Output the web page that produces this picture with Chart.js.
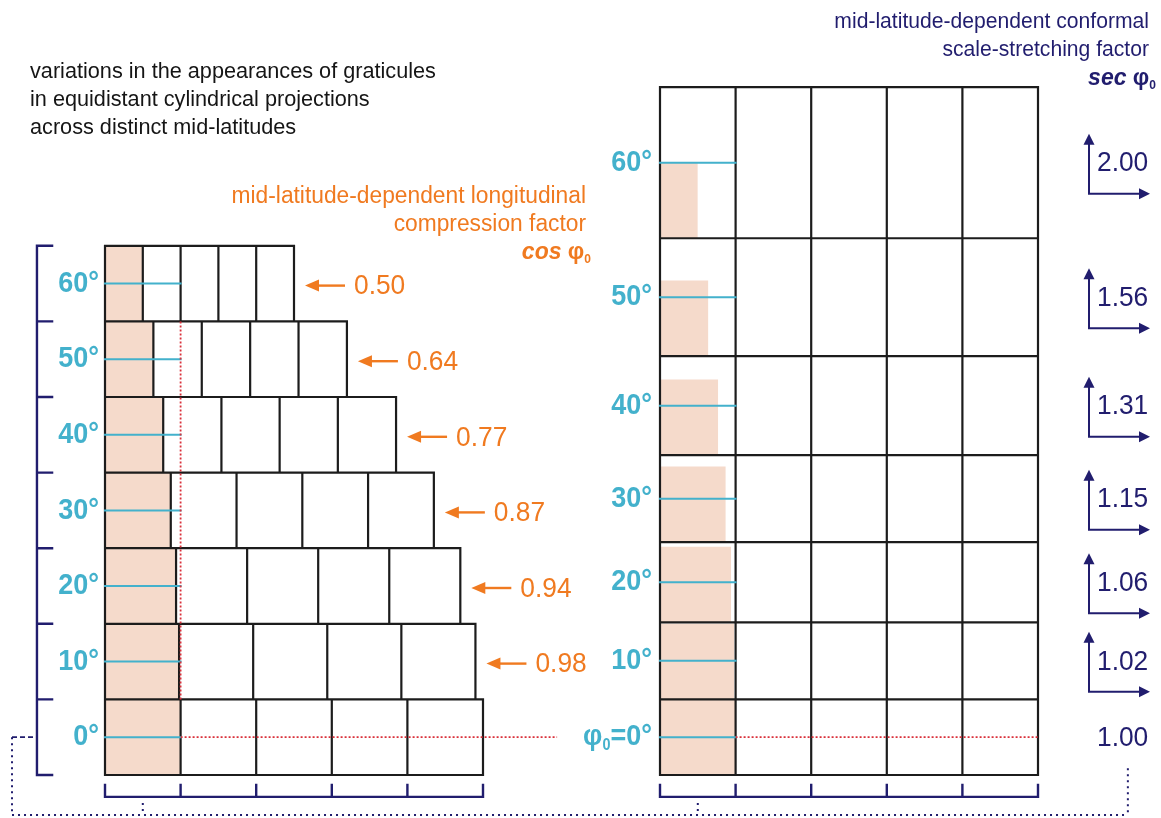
<!DOCTYPE html>
<html>
<head>
<meta charset="utf-8">
<script src="https://cdn.jsdelivr.net/npm/chart.js@4.4.0/dist/chart.umd.min.js"></script>
<style>
  html, body { margin: 0; padding: 0; background: #fff; overflow: hidden; }
</style>
</head>
<body>
<canvas id="graticules" width="1161" height="818"></canvas>
<script>
// values
const latitudes = [0, 10, 20, 30, 40, 50, 60];
const cosFactors = [1.00, 0.98, 0.94, 0.87, 0.77, 0.64, 0.50];
const secFactors = [1.00, 1.02, 1.06, 1.15, 1.31, 1.56, 2.00];
const cellsPerBand = 5;
const titleLines = ['variations in the appearances of graticules', 'in equidistant cylindrical projections', 'across distinct mid-latitudes'];
const cosCaption = ['mid-latitude-dependent longitudinal', 'compression factor'];
const secCaption = ['mid-latitude-dependent conformal', 'scale-stretching factor'];

// layout: one unit = one equatorial cell
const W = 1161, H = 818, U = 75.6, ORIGIN_X = 105, ORIGIN_Y = 775;
const RP = (660 - ORIGIN_X) / U;          // left edge of right panel, in units
const FONT = '"Liberation Sans", Arial, sans-serif';
const CYAN = '#43b1cc', ORANGE = '#f07a20', NAVY = '#211d6e', SHADE = '#f5dacb', INK = '#1c1c1c';

const rowBottom = secFactors.map((_, i) => secFactors.slice(0, i).reduce((a, b) => a + b, 0));
const rowMid = i => rowBottom[i] + secFactors[i] / 2;

const GAP = {x: null, y: null};
const rect = (x0, y0, x1, y1) => [{x: x0, y: y0}, {x: x1, y: y0}, {x: x1, y: y1}, {x: x0, y: y1}, {x: x0, y: y0}, GAP];
const seg = (x0, y0, x1, y1) => [{x: x0, y: y0}, {x: x1, y: y1}, GAP];

function lineSet(data, color, width, dash, order) {
  return {data, showLine: true, pointRadius: 0, borderColor: color, borderWidth: width,
          borderDash: dash || [], borderCapStyle: dash ? 'butt' : 'square', borderJoinStyle: 'miter',
          fill: false, order: order || 1};
}

const datasets = [];

// shaded "original" cells
latitudes.forEach((lat, i) => {
  datasets.push({data: [{x: 0, y: i + 1}, {x: cosFactors[i], y: i + 1}], showLine: true, pointRadius: 0,
    borderColor: 'transparent', borderWidth: 1, backgroundColor: SHADE, fill: {value: i}, order: 10});
  datasets.push({data: [{x: RP, y: rowBottom[i] + 1}, {x: RP + cosFactors[i], y: rowBottom[i] + 1}], showLine: true, pointRadius: 0,
    borderColor: 'transparent', borderWidth: 1, backgroundColor: SHADE, fill: {value: rowBottom[i]}, order: 10});
});

// cell borders
let leftCells = [], rightCells = [];
latitudes.forEach((lat, i) => {
  for (let k = 0; k < cellsPerBand; k++) {
    leftCells = leftCells.concat(rect(k * cosFactors[i], i, (k + 1) * cosFactors[i], i + 1));
    rightCells = rightCells.concat(rect(RP + k, rowBottom[i], RP + k + 1, rowBottom[i] + secFactors[i]));
  }
});

// cyan central parallels
let cyan = [];
latitudes.forEach((lat, i) => {
  cyan = cyan.concat(seg(0, i + 0.5, 1, i + 0.5), seg(RP, rowMid(i), RP + 1, rowMid(i)));
});

// red dotted references
const red = [].concat(seg(1, 1, 1, latitudes.length - 1), seg(1, 0.5, 5.98, 0.5), seg(RP + 1, 0.5, RP + cellsPerBand, 0.5));

// navy brackets
const bx = -0.9, bt = -0.7, by = -0.29, btop = -0.13;
let brackets = seg(bx, 0, bx, latitudes.length);
for (let j = 0; j <= latitudes.length; j++) brackets = brackets.concat(seg(bx, j, bt, j));
[0, RP].forEach(o => {
  brackets = brackets.concat(seg(o, by, o + cellsPerBand, by));
  for (let k = 0; k <= cellsPerBand; k++) brackets = brackets.concat(seg(o + k, by, o + k, btop));
});

// navy dotted connectors
const dy = -0.53, dxL = -1.23, dxR = 13.53;
const dotted = [].concat(seg(dxL, dy, dxR, dy), seg(dxL, 0.5, dxL, dy), seg(0.5, -0.37, 0.5, dy),
  seg(RP + 0.5, -0.37, RP + 0.5, dy), seg(dxR, 0.09, dxR, dy));

datasets.push(lineSet(leftCells, INK, 2.2, null, 5));
datasets.push(lineSet(rightCells, INK, 2.2, null, 5));
datasets.push(lineSet(cyan, CYAN, 2, null, 3));
datasets.push(lineSet(red, '#d9303a', 1.8, [2, 2], 2));
datasets.push(lineSet(brackets, NAVY, 2.4, null, 4));
datasets.push(lineSet(dotted, NAVY, 2, [2, 4], 4));
datasets.push(lineSet(seg(dxL, 0.5, bx, 0.5), NAVY, 1.8, [5, 3], 4));

// draw text runs; sx squeezes glyphs a little, like the condensed face of the original
function runs(ctx, parts, x, y, align, sx) {
  sx = sx || 1;
  let total = 0;
  parts.forEach(p => { ctx.font = p[1]; total += ctx.measureText(p[0]).width * sx; });
  let cx = align === 'right' ? x - total : x;
  ctx.textAlign = 'left';
  parts.forEach(p => {
    ctx.font = p[1];
    ctx.save();
    ctx.translate(cx, y + (p[2] || 0));
    ctx.scale(sx, 1);
    ctx.fillText(p[0], 0, 0);
    ctx.restore();
    cx += ctx.measureText(p[0]).width * sx;
  });
}

function arrow(ctx, x0, y0, x1, y1, len, wid, color, lw) {
  const a = Math.atan2(y1 - y0, x1 - x0), c = Math.cos(a), s = Math.sin(a);
  ctx.strokeStyle = color; ctx.fillStyle = color; ctx.lineWidth = lw; ctx.setLineDash([]);
  ctx.beginPath(); ctx.moveTo(x0, y0); ctx.lineTo(x1 - len * 0.7 * c, y1 - len * 0.7 * s); ctx.stroke();
  ctx.beginPath(); ctx.moveTo(x1, y1);
  ctx.lineTo(x1 - len * c - wid / 2 * s, y1 - len * s + wid / 2 * c);
  ctx.lineTo(x1 - len * c + wid / 2 * s, y1 - len * s - wid / 2 * c);
  ctx.closePath(); ctx.fill();
}

const overlay = {
  id: 'overlay',
  afterDatasetsDraw(chart) {
    const {ctx, scales: {x, y}} = chart;
    const px = v => x.getPixelForValue(v), py = v => y.getPixelForValue(v);
    ctx.save();
    ctx.textBaseline = 'alphabetic';

    // title
    ctx.fillStyle = '#151515';
    titleLines.forEach((t, i) => runs(ctx, [[t, '22px ' + FONT]], 30, 78 + i * 28, 'left', 0.985));

    // orange caption
    ctx.fillStyle = ORANGE;
    cosCaption.forEach((t, i) => runs(ctx, [[t, '23px ' + FONT]], 586, 203 + i * 28, 'right', 0.99));
    runs(ctx, [['cos ', 'italic bold 23px ' + FONT], ['φ', 'bold 23px ' + FONT], ['0', 'bold 12px ' + FONT, 4]], 591, 259, 'right');

    // navy caption
    ctx.fillStyle = NAVY;
    secCaption.forEach((t, i) => runs(ctx, [[t, '22px ' + FONT]], 1149, 28 + i * 28, 'right', 0.96));
    runs(ctx, [['sec ', 'italic bold 23px ' + FONT], ['φ', 'bold 23px ' + FONT], ['0', 'bold 12px ' + FONT, 4]], 1156, 85, 'right');

    ctx.textBaseline = 'middle';
    latitudes.forEach((lat, i) => {
      // latitude labels, left panel
      ctx.fillStyle = CYAN;
      runs(ctx, [[lat + '°', 'bold 30px ' + FONT]], px(0) - 6, py(i + 0.5), 'right', 0.9);
      // latitude labels, right panel
      const parts = i === 0
        ? [['φ', 'bold 30px ' + FONT], ['0', 'bold 16px ' + FONT, 8], ['=0°', 'bold 30px ' + FONT]]
        : [[lat + '°', 'bold 30px ' + FONT]];
      runs(ctx, parts, px(RP) - 8, py(rowMid(i)), 'right', 0.9);

      // sec factors
      const cx = px(RP + cellsPerBand) + 51, cy = py(rowMid(i));
      ctx.fillStyle = NAVY;
      runs(ctx, [[secFactors[i].toFixed(2), '28px ' + FONT]], cx + 8, cy + 1, 'left', 0.94);
      if (i > 0) {
        arrow(ctx, cx, cy + 31, cx, cy - 29, 11, 11, NAVY, 2);
        arrow(ctx, cx - 1, cy + 31, cx + 61, cy + 31, 11, 11, NAVY, 2);
      }

      // cos factors
      if (i > 0) {
        const tip = px(cellsPerBand * cosFactors[i]) + 11, ay = py(i + 0.5) + 2;
        arrow(ctx, tip + 40, ay, tip, ay, 14, 12, ORANGE, 2.4);
        ctx.fillStyle = ORANGE;
        runs(ctx, [[cosFactors[i].toFixed(2), '28px ' + FONT]], tip + 49, ay + 1, 'left', 0.94);
      }
    });
    ctx.restore();
  }
};

new Chart(document.getElementById('graticules'), {
  type: 'scatter',
  data: {datasets},
  options: {
    responsive: false,
    animation: false,
    events: [],
    layout: {padding: 0},
    plugins: {legend: {display: false}, tooltip: {enabled: false}},
    scales: {
      x: {type: 'linear', min: -ORIGIN_X / U, max: (W - ORIGIN_X) / U, display: false},
      y: {type: 'linear', min: -(H - ORIGIN_Y) / U, max: ORIGIN_Y / U, display: false}
    }
  },
  plugins: [overlay]
});
</script>
</body>
</html>
